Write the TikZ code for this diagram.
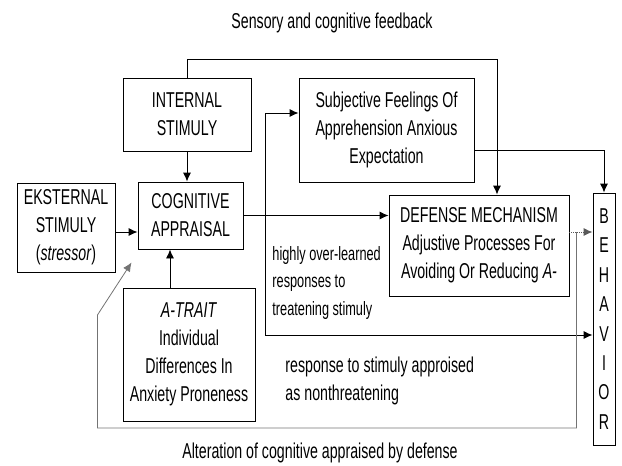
\documentclass[tikz,border=0pt]{standalone}
\usepackage{fontspec}
\setmainfont[FakeStretch=0.66]{Liberation Sans}
\usetikzlibrary{arrows.meta}

\begin{document}
\begin{tikzpicture}[x=1pt, y=-1pt, line width=0.9pt,
    every node/.style={font=\fontsize{21.5}{28}\selectfont, inner sep=0pt},
    box/.style={draw, align=center},
    arr/.style={-{Latex[length=9pt, width=8pt]}}]
  \useasboundingbox (0,0) rectangle (622,466);

  \node[box, minimum width=128pt, minimum height=73pt] (intern) at (187,114.5) {INTERNAL\\STIMULY};
  \node[box, minimum width=175pt, minimum height=104pt] (subj) at (386.5,130) {Subjective Feelings Of\\Apprehension Anxious\\Expectation};
  \node[box, minimum width=98pt, minimum height=89pt] (eks) at (66,227.5) {EKSTERNAL\\STIMULY\\(\textit{stressor})};
  \node[box, minimum width=105pt, minimum height=67pt] (cog) at (190.5,215.5) {COGNITIVE\\APPRAISAL};
  \node[box, minimum width=132pt, minimum height=133pt] (trait) at (189,354.5) {\textit{A-TRAIT}\\Individual\\Differences In\\Anxiety Proneness};
  \node[box, minimum width=180pt, minimum height=101pt] (def) at (479,245.5) {DEFENSE MECHANISM\\Adjustive Processes For\\Avoiding Or Reducing \textit{A-}};
  \node[box, minimum width=22pt, minimum height=252pt, font=\fontsize{21.5}{29.4}\selectfont] (beh) at (604,319) {B\\E\\H\\A\\V\\I\\O\\R};

  \node (fbTxt) at (332,23) {Sensory and cognitive feedback};
  \node (altTxt) at (320,453) {Alteration of cognitive appraised by defense};
  \node[anchor=west, align=left, font=\fontsize{19.3}{27.5}\selectfont] (hiTxt) at (272,283) {highly over-learned\\responses to\\treatening stimuly};
  \node[anchor=west, align=left] (nonTxt) at (285,381) {response to stimuly approised\\as nonthreatening};

  % feedback and inputs
  \draw[arr] (intern.north) -- ++(0,-18) -| ([xshift=18pt]def.north);
  \draw[arr] ([yshift=-20pt]subj.east) -| (beh.north);
  \draw[arr] (intern.south) -- (intern.south |- cog.north);
  \draw[arr] ([yshift=-4.5pt]eks.east) coordinate (eksOut) -- (eksOut -| cog.west);
  \draw[arr] ([xshift=-19pt]trait.north) coordinate (traitOut) -- (traitOut |- cog.south);

  % appraisal outputs
  \draw[arr] (cog.east) -- (cog.east -| def.west);
  \coordinate (split) at ([xshift=22pt]cog.east);
  \draw[arr] (split) |- ([yshift=17pt]subj.west);
  \draw[arr] (split) |- ([yshift=-16pt]beh.west);
  \draw[arr, densely dotted, black!65] ([yshift=13.5pt]def.east) coordinate (dotOut) -- (dotOut -| beh.west);

  % alteration loop
  \coordinate (altTip) at ([shift={(-6,13)}]cog.south west);
  \draw[arr, black!55, line width=0.8pt] ([xshift=7pt]dotOut) -- ++(0,196) -- ++(-479,0) -- ++(0,-113) -- (altTip);
\end{tikzpicture}
\end{document}
